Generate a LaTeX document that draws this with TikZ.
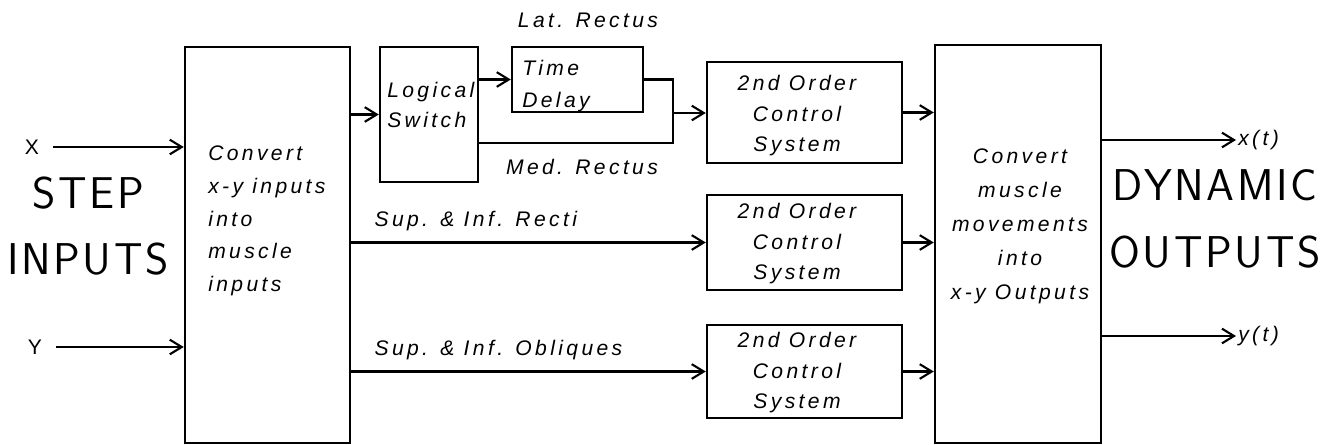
\documentclass[tikz,border=0pt]{standalone}
\usepackage{fontspec}
\usetikzlibrary{arrows.meta}
\newfontfamily\handfont[LetterSpace=16]{Liberation Sans}
\newfontfamily\bigfont[LetterSpace=6]{Latin Modern Sans}
\newcommand{\pxu}{0.03cm}

\begin{document}
\begin{tikzpicture}[x=0.03cm, y=-0.03cm,
    >={Straight Barb[length=3.6mm,width=4.4mm,line width=1.8pt]},
    line width=1.9pt,
    box/.style={draw, line width=2.1pt, inner sep=0pt},
    hand/.style={font=\handfont\itshape\fontsize{18}{28}\selectfont, inner sep=1pt},
    big/.style={font=\bigfont\fontsize{38}{57}\selectfont, align=center}]
  \useasboundingbox (0,0) rectangle (1335,445);

  % blocks
  \node[box, minimum width=165*\pxu, minimum height=396*\pxu] (conv1) at (267.5,245) {};
  \node[box, minimum width=98*\pxu, minimum height=135*\pxu] (ls) at (429,114.5) {};
  \node[box, minimum width=131*\pxu, minimum height=65*\pxu] (td) at (577.5,79.5) {};
  \node[box, minimum width=195*\pxu, minimum height=101*\pxu] (sys1) at (804.5,112.5) {};
  \node[box, minimum width=195*\pxu, minimum height=95*\pxu] (sys2) at (804.5,242.5) {};
  \node[box, minimum width=195*\pxu, minimum height=93*\pxu] (sys3) at (804.5,371.5) {};
  \node[box, minimum width=166*\pxu, minimum height=398*\pxu] (conv2) at (1018,244) {};

  % block texts
  \node[hand, anchor=west, align=left, font=\handfont\itshape\fontsize{18}{28}\selectfont] (conv1txt) at (206,221)
    {Convert\\x-y inputs\\into\\muscle\\inputs};
  \node[hand, anchor=west, align=left, font=\handfont\itshape\fontsize{18}{26}\selectfont] (lstxt) at (385,105)
    {Logical\\Switch};
  \node[hand, anchor=west, align=left, font=\handfont\itshape\fontsize{18}{27}\selectfont] (tdtxt) at (520,86)
    {Time\\Delay};
  \node[hand, align=center, font=\handfont\itshape\fontsize{18}{26}\selectfont] (sys1txt) at (797,116)
    {2nd Order\\Control\\System};
  \node[hand, align=center, font=\handfont\itshape\fontsize{18}{26}\selectfont] (sys2txt) at (797,244)
    {2nd Order\\Control\\System};
  \node[hand, align=center, font=\handfont\itshape\fontsize{18}{26}\selectfont] (sys3txt) at (797,373)
    {2nd Order\\Control\\System};
  \node[hand, align=center, font=\handfont\itshape\fontsize{18}{29}\selectfont] (conv2txt) at (1020,226)
    {Convert\\muscle\\movements\\into\\x-y Outputs};

  % signal labels
  \node[hand, font=\handfont\fontsize{18}{20}\selectfont] (xin) at (32,147) {X};
  \node[hand, font=\handfont\fontsize{18}{20}\selectfont] (yin) at (35,347) {Y};
  \node[hand] (latlbl) at (588,20) {Lat. Rectus};
  \node[hand] (medlbl) at (582,167) {Med. Rectus};
  \node[hand, anchor=west] (xt) at (1236,140) {x(t)};
  \node[hand, anchor=west] (yt) at (1236,336) {y(t)};
  \node[big] (stepin) at (88,226) {STEP\\INPUTS};
  \node[big] (dynout) at (1215,219) {DYNAMIC\\OUTPUTS};

  % connectors
  \draw[->, shorten <=10pt] (xin) -- (xin -| conv1.west);
  \draw[->, shorten <=10pt] (yin) -- (yin -| conv1.west);
  \draw[->] (conv1.east |- ls.west) -- (ls.west);
  \draw[->] (ls.east |- td.west) -- (td.west);
  \coordinate (jn) at (673,113);
  \coordinate (mr) at (ls.east |- 0,143);
  \draw (td.east) -| (jn) |- (mr);
  \draw[->] (jn) -- (jn -| sys1.west);
  \draw[->] (conv1.east |- sys2.west) -- node[hand, pos=0, anchor=south west, xshift=18pt, yshift=8pt] (reclbl)
    {Sup. \& Inf. Recti} (sys2.west);
  \draw[->] (conv1.east |- sys3.west) -- node[hand, pos=0, anchor=south west, xshift=18pt, yshift=8pt] (obllbl)
    {Sup. \& Inf. Obliques} (sys3.west);
  \draw[->] (sys1.east) -- (sys1.east -| conv2.west);
  \draw[->] (sys2.east) -- (sys2.east -| conv2.west);
  \draw[->] (sys3.east) -- (sys3.east -| conv2.west);
  \draw[->] (conv2.east |- xt.west) -- (xt.west);
  \draw[->] (conv2.east |- yt.west) -- (yt.west);
\end{tikzpicture}
\end{document}
